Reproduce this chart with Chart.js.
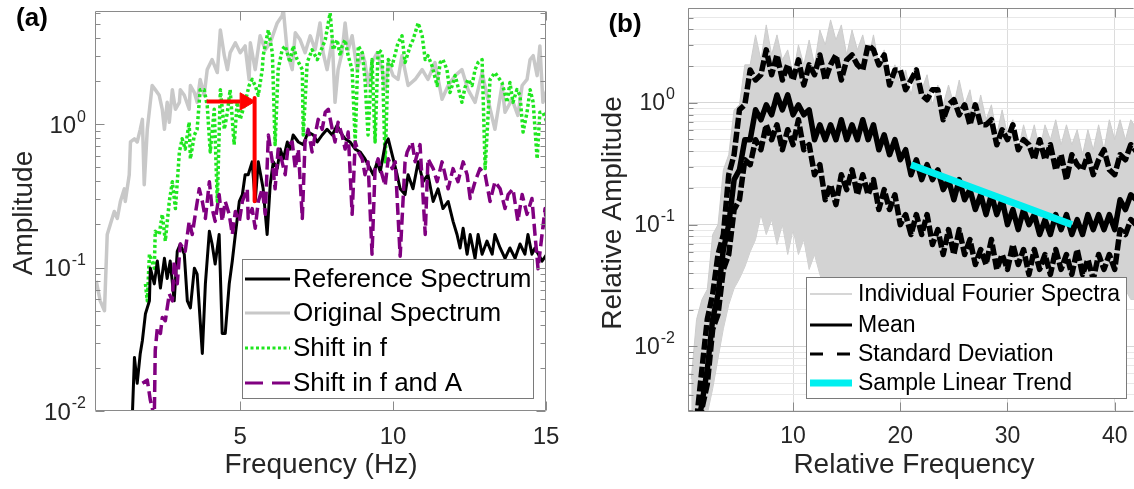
<!DOCTYPE html>
<html><head><meta charset="utf-8">
<script src="https://cdn.jsdelivr.net/npm/chart.js@4.4.1/dist/chart.umd.min.js"></script>
<style>
html,body{margin:0;padding:0;background:#fff;}
body{width:1134px;height:489px;position:relative;overflow:hidden;}
canvas{position:absolute;top:0;}
#chartA{left:0;} #chartB{left:570px;}
</style></head><body>
<canvas id="chartA" width="560" height="489"></canvas>
<canvas id="chartB" width="564" height="489"></canvas>
<script>
// ---------------- Panel (a) data ----------------
const xTickValuesA = [5, 10, 15];
const xTickLabelsA = ['5', '10', '15'];
const yTickValuesA = [0.01, 0.1, 1];
const yTickExpA = ['-2', '-1', '0'];

const refFreq = [1.47,1.54,1.63,1.73,1.80,1.90,2.03,2.06,2.19,2.29,2.39,2.52,2.61,2.71,2.84,2.94,3.04,3.17,3.27,3.37,3.50,3.59,3.76,3.86,3.99,4.08,4.18,4.31,4.41,4.51,4.64,4.74,4.84,4.97,5.07,5.16,5.26,5.39,5.49,5.59,5.75,5.88,5.98,6.08,6.21,6.31,6.41,6.54,6.63,6.73,6.90,7.06,7.22,7.39,7.52,7.68,7.84,8.01,8.17,8.27,8.43,8.59,8.76,8.92,9.08,9.25,9.35,9.48,9.58,9.74,9.84,9.97,10.13,10.23,10.39,10.49,10.65,10.82,10.98,11.14,11.31,11.47,11.63,11.80,11.96,12.09,12.19,12.29,12.42,12.52,12.68,12.78,12.91,13.07,13.24,13.33,13.50,13.66,13.82,13.99,14.15,14.31,14.41,14.54,14.64,14.87,15.03];
const refAmp = [0.0091,0.0236,0.0156,0.0252,0.031,0.0477,0.0586,0.099,0.077,0.111,0.072,0.116,0.084,0.111,0.0586,0.13,0.146,0.124,0.0586,0.0524,0.099,0.09,0.0252,0.077,0.179,0.146,0.106,0.17,0.0347,0.0347,0.077,0.111,0.17,0.289,0.323,0.444,0.444,0.546,0.289,0.546,0.354,0.17,0.378,0.546,0.49,0.67,0.573,0.751,0.67,0.84,0.751,0.72,0.881,0.84,0.751,0.84,0.92,0.84,0.985,0.881,0.79,0.751,0.67,0.64,0.573,0.49,0.444,0.546,0.465,0.72,0.79,0.61,0.444,0.354,0.323,0.444,0.354,0.546,0.397,0.444,0.289,0.354,0.258,0.289,0.21,0.17,0.137,0.188,0.124,0.17,0.116,0.17,0.124,0.153,0.124,0.17,0.137,0.116,0.137,0.116,0.146,0.124,0.17,0.124,0.137,0.111,0.124];

const origFreq = [0.29,0.42,0.56,0.65,0.75,0.88,0.98,1.08,1.21,1.24,1.37,1.41,1.54,1.63,1.73,1.80,1.86,1.96,2.12,2.22,2.35,2.45,2.52,2.61,2.68,2.78,2.88,3.01,3.04,3.17,3.33,3.37,3.50,3.59,3.69,3.82,3.92,4.08,4.25,4.35,4.48,4.58,4.67,4.84,5.00,5.16,5.29,5.33,5.49,5.65,5.82,5.98,6.21,6.37,6.41,6.54,6.70,6.80,6.96,7.12,7.29,7.45,7.61,7.71,7.84,8.01,8.10,8.20,8.33,8.43,8.53,8.66,8.82,8.99,9.08,9.18,9.31,9.48,9.64,9.74,9.84,10.00,10.16,10.29,10.49,10.72,10.95,11.14,11.37,11.60,11.80,12.03,12.25,12.45,12.68,12.91,13.10,13.33,13.56,13.66,13.89,14.08,14.22,14.38,14.48,14.58,14.71,14.80,14.90,15.03];
const origAmp = [0.0807,0.0586,0.05,0.17,0.2,0.246,0.22,0.289,0.354,0.289,0.444,0.751,0.79,0.751,0.92,1.08,0.378,0.92,1.86,1.74,1.59,1.27,0.92,1.42,1.03,1.74,1.27,1.42,1.74,1.59,1.27,1.86,1.66,1.42,2.05,1.59,2.4,2.82,2.29,4.54,3.0,2.4,3.15,3.69,3.15,3.51,2.05,3.69,2.4,4.13,3.3,3.69,5.08,5.7,6.3,3.15,2.4,4.33,3.87,3.15,4.13,3.3,5.08,3.15,2.4,3.87,1.42,2.4,3.15,5.08,3.3,4.13,2.4,3.15,2.69,1.86,2.69,3.15,2.4,1.74,2.69,2.18,2.05,3.0,1.86,2.05,2.4,2.05,2.69,1.49,1.86,2.18,2.4,1.74,1.42,2.29,1.49,0.92,1.86,1.21,1.49,1.15,1.86,2.05,2.82,3.0,2.18,3.51,1.42,1.74];

const shiftFreq = [1.90,1.96,2.03,2.19,2.22,2.35,2.45,2.55,2.68,2.78,2.88,3.01,3.10,3.20,3.33,3.37,3.50,3.59,3.69,3.82,3.92,4.02,4.15,4.25,4.35,4.48,4.58,4.67,4.80,4.90,5.00,5.16,5.29,5.39,5.49,5.59,5.72,5.75,5.88,5.92,6.05,6.14,6.24,6.37,6.47,6.63,6.73,6.86,7.03,7.06,7.19,7.35,7.52,7.61,7.78,7.88,7.94,8.04,8.17,8.27,8.33,8.43,8.53,8.66,8.76,8.86,8.99,9.08,9.18,9.31,9.41,9.51,9.64,9.74,9.84,9.97,10.16,10.29,10.39,10.56,10.65,10.82,10.95,11.05,11.14,11.27,11.44,11.54,11.63,11.76,11.86,12.03,12.25,12.35,12.45,12.58,12.68,12.78,12.91,13.01,13.17,13.33,13.56,13.73,13.82,13.92,14.05,14.15,14.25,14.38,14.48,14.58,14.71,14.80,14.90,15.03];
const shiftAmp = [0.077,0.0586,0.124,0.099,0.179,0.17,0.235,0.153,0.289,0.397,0.258,0.64,0.79,0.67,1.03,0.573,0.84,0.92,1.74,1.74,1.35,0.64,1.27,0.289,1.74,0.92,1.21,1.74,0.72,1.42,1.08,1.42,1.86,2.05,1.86,1.59,2.4,3.0,4.13,4.54,3.15,0.72,2.4,3.3,3.51,2.69,3.51,2.82,2.4,0.84,2.69,3.3,2.82,3.15,3.87,5.08,5.96,3.3,3.87,3.0,3.51,3.87,3.0,2.4,0.751,3.51,3.15,2.05,0.84,2.82,0.751,3.3,3.15,0.546,2.82,2.56,3.69,4.13,2.69,3.51,3.87,5.08,4.13,2.82,3.0,2.56,1.86,2.69,2.82,2.4,1.66,2.18,1.42,1.8,2.05,1.86,2.4,2.69,2.82,0.49,2.05,2.29,1.95,1.42,1.95,1.42,1.74,1.59,0.881,1.21,1.74,1.42,0.573,1.21,1.21,1.03];

const shiftAFreq = [1.80,1.96,2.06,2.19,2.22,2.29,2.39,2.45,2.55,2.68,2.78,2.84,2.94,3.04,3.20,3.33,3.43,3.53,3.66,3.76,3.86,3.99,4.08,4.18,4.31,4.41,4.51,4.64,4.74,4.84,4.97,5.07,5.23,5.26,5.39,5.49,5.59,5.72,5.82,5.92,6.05,6.14,6.24,6.37,6.47,6.57,6.70,6.80,6.90,7.03,7.12,7.22,7.35,7.45,7.55,7.68,7.78,7.88,8.01,8.10,8.20,8.33,8.43,8.53,8.66,8.76,8.86,8.99,9.08,9.18,9.31,9.41,9.51,9.64,9.74,9.84,9.97,10.07,10.23,10.39,10.46,10.62,10.72,10.88,11.05,11.14,11.31,11.44,11.60,11.70,11.80,11.96,12.12,12.29,12.42,12.52,12.68,12.84,13.01,13.17,13.33,13.50,13.66,13.76,13.92,14.08,14.22,14.38,14.54,14.64,14.74,14.87,14.97,15.07];
const shiftAAmp = [0.0156,0.0164,0.0119,0.0091,0.0264,0.0382,0.0347,0.0448,0.0426,0.0656,0.0586,0.111,0.077,0.146,0.13,0.21,0.17,0.235,0.354,0.289,0.22,0.397,0.258,0.21,0.323,0.21,0.289,0.235,0.17,0.246,0.21,0.289,0.354,0.22,0.258,0.188,0.289,0.354,0.235,0.84,0.546,0.354,0.67,0.546,0.444,0.72,0.751,0.49,0.67,0.22,0.751,0.92,0.64,0.84,1.08,0.92,1.21,1.27,0.92,0.751,1.03,0.84,0.67,0.881,0.235,0.751,0.64,0.573,0.444,0.546,0.124,0.49,0.573,0.444,0.371,0.573,0.49,0.546,0.12,0.546,0.64,0.751,0.546,0.72,0.17,0.573,0.49,0.397,0.546,0.444,0.354,0.49,0.397,0.546,0.444,0.303,0.397,0.49,0.444,0.289,0.397,0.354,0.258,0.323,0.354,0.21,0.323,0.235,0.303,0.17,0.098,0.17,0.258,0.137];

// red annotation arrow (frequency shift, then amplitude shift)
const arrowFreq = [3.9, 5.0];
const arrowAmp = [1.44, 1.44];
const arrowHeadFreq = [5.16];
const arrowHeadAmp = [1.44];
const ampShiftFreq = [5.47, 5.47];
const ampShiftAmp = [1.52, 0.29];

// ---------------- Panel (b) data ----------------
const xTickValuesB = [10, 20, 30, 40];
const xTickLabelsB = ['10', '20', '30', '40'];
const yTickValuesB = [0.01, 0.1, 1];
const yTickExpB = ['-2', '-1', '0'];

const relFreq = [0.5,1,1.5,2,2.5,3,3.5,4,4.5,5,5.5,6,6.5,7,7.5,8,8.5,9,9.5,10,10.5,11,11.5,12,12.5,13,13.5,14,14.5,15,15.5,16,16.5,17,17.5,18,18.5,19,19.5,20,20.5,21,21.5,22,22.5,23,23.5,24,24.5,25,25.5,26,26.5,27,27.5,28,28.5,29,29.5,30,30.5,31,31.5,32,32.5,33,33.5,34,34.5,35,35.5,36,36.5,37,37.5,38,38.5,39,39.5,40,40.5,41,41.5,42];
const stdUpperAmp = [0.0015,0.0025,0.0065,0.0167,0.0268,0.0569,0.083,0.257,0.375,0.876,0.963,1.86,1.54,1.70,2.72,1.70,2.47,1.54,2.05,1.54,2.25,1.40,2.05,1.70,2.47,1.54,2.05,2.47,1.54,2.25,2.47,2.05,1.86,2.99,2.72,2.05,2.47,1.40,1.86,1.86,1.28,1.54,1.86,1.16,1.06,1.28,1.28,0.726,0.963,1.06,0.797,0.963,0.660,0.963,0.660,0.660,0.726,0.453,0.601,0.498,0.660,0.412,0.498,0.453,0.341,0.498,0.341,0.453,0.282,0.375,0.234,0.375,0.311,0.282,0.375,0.257,0.341,0.412,0.282,0.257,0.375,0.341,0.453,0.40];
const meanAmp = [0.0015,0.002,0.0034,0.0065,0.0167,0.0268,0.0625,0.100,0.234,0.282,0.498,0.498,0.876,0.726,0.963,0.797,1.16,0.876,1.16,0.797,0.963,0.797,0.876,0.498,0.660,0.498,0.660,0.498,0.726,0.498,0.660,0.498,0.726,0.498,0.660,0.412,0.547,0.375,0.498,0.341,0.412,0.257,0.341,0.234,0.311,0.234,0.282,0.194,0.234,0.160,0.234,0.160,0.194,0.133,0.176,0.121,0.176,0.121,0.160,0.100,0.133,0.091,0.133,0.100,0.121,0.083,0.110,0.083,0.121,0.091,0.121,0.083,0.110,0.083,0.121,0.091,0.121,0.091,0.121,0.091,0.160,0.133,0.176,0.16];
const stdLowerAmp = [0.0015,0.0018,0.0031,0.0049,0.0138,0.0184,0.0429,0.0569,0.133,0.160,0.341,0.311,0.498,0.412,0.660,0.498,0.660,0.412,0.601,0.453,0.726,0.412,0.453,0.257,0.311,0.160,0.213,0.146,0.257,0.194,0.282,0.176,0.257,0.176,0.234,0.133,0.194,0.133,0.176,0.100,0.121,0.083,0.121,0.083,0.121,0.0687,0.091,0.0569,0.091,0.0569,0.091,0.0569,0.0755,0.0471,0.0625,0.0471,0.0755,0.0429,0.0569,0.0429,0.0687,0.0471,0.0625,0.0390,0.0625,0.0429,0.0569,0.0390,0.0625,0.0429,0.0569,0.0390,0.0625,0.0390,0.0518,0.0355,0.0569,0.0429,0.0569,0.0429,0.091,0.083,0.110,0.10];
const spectraUpperAmp = [0.0054,0.0167,0.0243,0.0294,0.083,0.100,0.282,0.375,0.876,0.963,2.05,2.05,3.61,2.25,4.36,2.47,3.61,2.25,2.72,1.70,2.99,2.05,3.28,2.05,3.96,2.99,4.79,3.28,4.36,2.47,3.96,2.72,3.61,2.25,3.61,2.05,2.72,1.40,2.05,1.40,1.86,1.16,1.86,1.28,1.70,0.963,1.40,0.963,1.40,0.963,1.54,0.963,1.28,0.726,1.16,0.726,0.963,0.547,0.876,0.547,0.726,0.412,0.660,0.453,0.660,0.412,0.660,0.498,0.726,0.453,0.660,0.453,0.601,0.375,0.601,0.412,0.660,0.412,0.726,0.498,0.726,0.498,0.726,0.62];
const spectraLowerAmp = [0.002,0.002,0.0025,0.0028,0.0045,0.008,0.014,0.022,0.030,0.036,0.045,0.060,0.0755,0.121,0.083,0.110,0.0687,0.100,0.0569,0.091,0.0569,0.0755,0.0429,0.0569,0.0390,0.0294,0.0243,0.0294,0.0243,0.0294,0.0243,0.0294,0.0243,0.0294,0.0243,0.0294,0.0243,0.0294,0.0243,0.0294,0.0243,0.0294,0.0243,0.0294,0.0243,0.0294,0.0243,0.0294,0.0243,0.0294,0.0243,0.0294,0.0243,0.0294,0.0243,0.0294,0.0243,0.0294,0.0243,0.0294,0.0243,0.0294,0.0243,0.0294,0.0243,0.0294,0.0243,0.0294,0.0243,0.0294,0.0243,0.0294,0.0243,0.0294,0.0243,0.0294,0.0243,0.0294,0.0243,0.0294,0.0243,0.0294,0.0243,0.0243];
const trendFreq = [21, 36];
const trendAmp = [0.31, 0.10];

// ---------------- helpers ----------------
const FONT = "'Liberation Sans', Arial, Helvetica, sans-serif";
const AXIS_COLOR = '#8a8a8a';
const TEXT_COLOR = '#262626';

function pts(xs, ys) {
  const n = Math.min(xs.length, ys.length), out = [];
  for (let i = 0; i < n; i++) out.push({x: xs[i], y: ys[i]});
  return out;
}
function logTicks(min, max) {
  const out = [];
  [0.001, 0.01, 0.1, 1].forEach(d => { for (let m = 1; m <= 9; m++) { const v = +(m * d).toPrecision(3); if (v >= min && v <= max) out.push(v); } });
  return out;
}
function isDecade(v) { const l = Math.log10(v); return Math.abs(l - Math.round(l)) < 1e-6; }

const framePlugin = {
  id: 'frame',
  afterDraw(chart, args, o) {
    const ctx = chart.ctx, a = chart.chartArea, xs = chart.scales.x, ys = chart.scales.y;
    ctx.save();
    if (o.legend) drawLegend(ctx, chart, o.legend);
    const L = Math.round(a.left) + 0.5, R = Math.round(a.right) - 0.5, T = Math.round(a.top) + 0.5, B = Math.round(a.bottom) - 0.5;
    ctx.strokeStyle = AXIS_COLOR; ctx.lineWidth = 1; ctx.setLineDash([]);
    ctx.beginPath();
    ctx.moveTo(R, T); ctx.lineTo(L, T); ctx.lineTo(L, B); ctx.lineTo(R, B);
    if (o.rightBorder) { ctx.moveTo(R, T); ctx.lineTo(R, B); }
    logTicks(ys.min, ys.max).forEach(v => {
      const y = Math.round(ys.getPixelForValue(v)) + 0.5;
      const len = isDecade(v) ? 9 : 5;
      ctx.moveTo(L, y); ctx.lineTo(L + len, y);
      if (o.rightBorder) { ctx.moveTo(R, y); ctx.lineTo(R - len, y); }
    });
    o.xTicks.forEach(v => {
      const x = Math.round(xs.getPixelForValue(v)) + 0.5;
      ctx.moveTo(x, B); ctx.lineTo(x, B - 9);
      ctx.moveTo(x, T); ctx.lineTo(x, T + 9);
    });
    ctx.stroke();
    ctx.fillStyle = TEXT_COLOR; ctx.textBaseline = 'middle';
    o.xTicks.forEach((v, i) => {
      ctx.font = o.tickSize + 'px ' + FONT; ctx.textAlign = 'center';
      ctx.fillText(o.xLabels[i], xs.getPixelForValue(v), o.xLabelY);
    });
    o.yTicks.forEach((v, i) => {
      const y = ys.getPixelForValue(v);
      ctx.textAlign = 'left';
      ctx.font = o.tickSize + 'px ' + FONT; const w1 = ctx.measureText('10').width;
      ctx.font = o.expSize + 'px ' + FONT; const w2 = ctx.measureText(o.yExp[i]).width;
      const x0 = o.yLabelRight - w1 - w2 - 1;
      ctx.font = o.tickSize + 'px ' + FONT; ctx.fillText('10', x0, y + o.yLabelShift);
      ctx.font = o.expSize + 'px ' + FONT; ctx.fillText(o.yExp[i], x0 + w1 + 1, y + o.yLabelShift - 9);
    });
    ctx.font = o.titleSize + 'px ' + FONT; ctx.textAlign = 'center';
    ctx.fillText(o.xTitle, o.xTitlePos[0], o.xTitlePos[1]);
    ctx.save(); ctx.translate(o.yTitlePos[0], o.yTitlePos[1]); ctx.rotate(-Math.PI / 2);
    ctx.fillText(o.yTitle, 0, 0); ctx.restore();
    ctx.fillStyle = '#000'; ctx.font = 'bold ' + o.panelSize + 'px ' + FONT; ctx.textAlign = 'center';
    ctx.fillText(o.panel, o.panelPos[0], o.panelPos[1]);
    ctx.restore();
  }
};

function drawLegend(ctx, chart, Lg) {
  const [x0, y0, x1, y1] = Lg.box;
  ctx.fillStyle = '#fff'; ctx.fillRect(x0, y0, x1 - x0, y1 - y0);
  ctx.strokeStyle = '#7a7a7a'; ctx.lineWidth = 1; ctx.setLineDash([]);
  ctx.strokeRect(x0 + 0.5, y0 + 0.5, x1 - x0 - 1, y1 - y0 - 1);
  Lg.items.forEach((it, k) => {
    const ds = chart.data.datasets[it.ds];
    const y = Lg.rows[k];
    ctx.save();
    ctx.strokeStyle = it.color || ds.borderColor;
    ctx.lineWidth = it.width || ds.borderWidth;
    ctx.setLineDash(it.dash || ds.borderDash || []);
    ctx.lineCap = 'butt';
    ctx.beginPath(); ctx.moveTo(Lg.sample[0], y); ctx.lineTo(Lg.sample[1], y); ctx.stroke();
    ctx.restore();
    ctx.fillStyle = '#000'; ctx.font = Lg.size + 'px ' + FONT;
    ctx.textBaseline = 'middle'; ctx.textAlign = 'left';
    ctx.fillText(ds.label, Lg.textX, y + 1);
  });
}

function baseLine(extra) {
  return Object.assign({borderJoinStyle: 'round', pointRadius: 0, fill: false, clip: 0, tension: 0}, extra);
}

// ---------------- Chart (a) ----------------
const dsA = [
  baseLine({label: 'Frequency shift', data: pts(arrowFreq, arrowAmp), borderColor: '#ff0000', borderWidth: 4, order: 0}),
  baseLine({label: 'Frequency shift head', data: pts(arrowHeadFreq, arrowHeadAmp), showLine: false, pointRadius: 10, pointStyle: 'triangle', pointRotation: 90, backgroundColor: '#ff0000', borderColor: '#ff0000', borderWidth: 1, order: 0}),
  baseLine({label: 'Amplitude shift', data: pts(ampShiftFreq, ampShiftAmp), borderColor: '#ff0000', borderWidth: 4, order: 0}),
  baseLine({label: 'Shift in f and A', data: pts(shiftAFreq, shiftAAmp), borderColor: '#800080', borderWidth: 3.5, borderDash: [12, 5], order: 1}),
  baseLine({label: 'Reference Spectrum', data: pts(refFreq, refAmp), borderColor: '#000000', borderWidth: 3, order: 2}),
  baseLine({label: 'Shift in f', data: pts(shiftFreq, shiftAmp), borderColor: '#1fe61f', borderWidth: 3.5, borderDash: [3, 2.5], order: 3}),
  baseLine({label: 'Original Spectrum', data: pts(origFreq, origAmp), borderColor: '#c8c8c8', borderWidth: 3.5, order: 4})
];

new Chart(document.getElementById('chartA'), {
  type: 'line',
  data: {datasets: dsA},
  options: {
    responsive: false, animation: false, events: [],
    layout: {padding: {top: 8, right: 14, left: 0, bottom: 0}},
    plugins: {
      legend: {display: false}, tooltip: {enabled: false},
      frame: {
        rightBorder: true, xTicks: xTickValuesA, xLabels: xTickLabelsA, xLabelY: 437,
        yTicks: yTickValuesA, yExp: yTickExpA, yLabelRight: 86, yLabelShift: 2,
        tickSize: 24, expSize: 16, titleSize: 28,
        xTitle: 'Frequency (Hz)', xTitlePos: [321, 465], yTitle: 'Amplitude', yTitlePos: [24, 213],
        panel: '(a)', panelPos: [32, 19], panelSize: 26,
        legend: {box: [242, 259, 534, 399], rows: [279, 313, 348, 383], sample: [245, 290], textX: 293, size: 26,
          items: [{ds: 4}, {ds: 6, width: 3}, {ds: 5, width: 3}, {ds: 3, width: 3, dash: [18, 9]}]}
      }
    },
    scales: {
      x: {type: 'linear', min: 0.25, max: 15, afterFit(s) { s.height = 78; },
          afterBuildTicks(s) { s.ticks = xTickValuesA.map(v => ({value: v})); },
          ticks: {display: false}, grid: {display: false}, border: {display: false}},
      y: {type: 'logarithmic', min: 0.01, max: 6.15, afterFit(s) { s.width = 95; },
          ticks: {display: false}, grid: {display: false}, border: {display: false}}
    }
  },
  plugins: [framePlugin]
});

// ---------------- Chart (b) ----------------
const dsB = [
  baseLine({label: 'Sample Linear Trend', data: pts(trendFreq, trendAmp), borderColor: '#00f0f0', borderWidth: 7, borderCapStyle: 'butt', order: 0}),
  baseLine({label: 'Mean', data: pts(relFreq, meanAmp), borderColor: '#000000', borderWidth: 5.5, order: 1}),
  baseLine({label: 'Standard Deviation', data: pts(relFreq, stdUpperAmp), borderColor: '#000000', borderWidth: 5.5, borderDash: [11, 3], order: 2}),
  baseLine({label: 'Standard Deviation', data: pts(relFreq, stdLowerAmp), borderColor: '#000000', borderWidth: 5.5, borderDash: [11, 3], order: 3}),
  baseLine({label: 'Individual Fourier Spectra', data: pts(relFreq, spectraUpperAmp), borderColor: '#cccccc', borderWidth: 1, fill: 5, backgroundColor: '#d3d3d3', order: 4}),
  baseLine({label: 'Individual Fourier Spectra', data: pts(relFreq, spectraLowerAmp), borderColor: '#cccccc', borderWidth: 1, order: 5})
];

new Chart(document.getElementById('chartB'), {
  type: 'line',
  data: {datasets: dsB},
  options: {
    responsive: false, animation: false, events: [],
    layout: {padding: {top: 8, right: 0, left: 0, bottom: 0}},
    plugins: {
      legend: {display: false}, tooltip: {enabled: false},
      frame: {
        rightBorder: false, xTicks: xTickValuesB, xLabels: xTickLabelsB, xLabelY: 437,
        yTicks: yTickValuesB, yExp: yTickExpB, yLabelRight: 105, yLabelShift: 1,
        tickSize: 23, expSize: 16, titleSize: 28,
        xTitle: 'Relative Frequency', xTitlePos: [344, 465], yTitle: 'Relative Amplitude', yTitlePos: [43, 213],
        panel: '(b)', panelPos: [55, 25], panelSize: 26,
        legend: {box: [236, 277, 557, 399], rows: [294, 325, 354, 383], sample: [240, 282], textX: 288, size: 23,
          items: [{ds: 4, color: '#c8c8c8', width: 1.5}, {ds: 1, width: 3}, {ds: 2, width: 3, dash: [13, 14]}, {ds: 0}]}
      }
    },
    scales: {
      x: {type: 'linear', min: 0.2, max: 41.8, afterFit(s) { s.height = 77; },
          afterBuildTicks(s) { s.ticks = xTickValuesB.map(v => ({value: v})); },
          ticks: {display: false}, border: {display: false},
          grid: {color: '#dcdcdc', lineWidth: 1, drawTicks: false}},
      y: {type: 'logarithmic', min: 0.0029, max: 6.0, afterFit(s) { s.width = 118; },
          afterBuildTicks(s) { s.ticks = logTicks(0.0029, 6.0).map(v => ({value: v, major: isDecade(v)})); },
          ticks: {display: false}, border: {display: false},
          grid: {drawTicks: false, lineWidth: 1, color: ctx => (ctx.tick && isDecade(ctx.tick.value)) ? '#d6d6d6' : '#e8e8e8'}}
    }
  },
  plugins: [framePlugin]
});
</script>
</body></html>
